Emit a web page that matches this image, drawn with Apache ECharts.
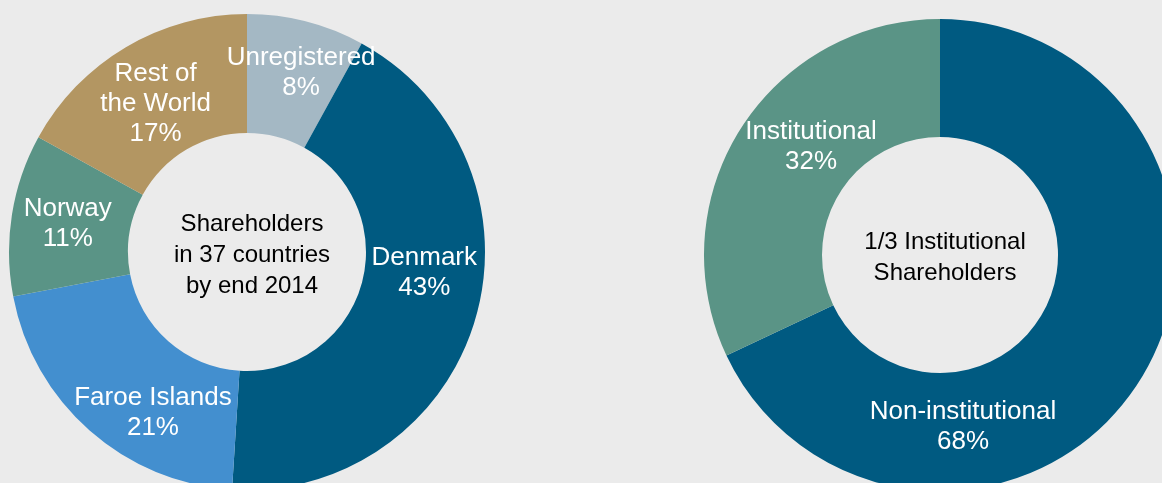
<!DOCTYPE html>
<html lang="en">
<head>
    <meta charset="UTF-8">
    <title>Shareholders</title>
    <script src="https://cdn.jsdelivr.net/npm/echarts@6/dist/echarts.min.js"></script>
    <style>
        html, body{
            margin: 0;
            padding: 0;
            background-color: #ebebeb;
        }
        #chart{
            width: 1162px;
            height: 483px;
        }
    </style>
</head>
<body>
    <div id="chart"></div>
</body>
<script>
    // left donut: shareholders by country
    var countries = ['Unregistered', 'Denmark', 'Faroe Islands', 'Norway', 'Rest of\nthe World'];
    var countryShares = [8, 43, 21, 11, 17];
    var countryColors = ['#a4b8c4', '#005a81', '#438fcf', '#5a9486', '#b39662'];
    var countryOffsets = [[9, -3], [3, -30], [26, 25], [0, 0], [1, 8]];

    // right donut: institutional vs non-institutional
    var holderTypes = ['Non-institutional', 'Institutional'];
    var holderShares = [68, 32];
    var holderColors = ['#005a81', '#5a9486'];
    var holderOffsets = [[-129, 75], [23, -12]];

    var font = 'Arial, "Liberation Sans", sans-serif';

    function buildData(names, values, colors, offsets) {
        var data = [];
        for (var i = 0; i < names.length; i++) {
            data.push({
                name: names[i],
                value: values[i],
                itemStyle: {color: colors[i]},
                label: {offset: offsets[i]}
            });
        }
        return data;
    }

    function donut(center, radius, data) {
        return {
            type: 'pie',
            center: center,
            radius: radius,
            startAngle: 90,
            clockwise: true,
            avoidLabelOverlap: false,
            animation: false,
            silent: true,
            itemStyle: {borderWidth: 0},
            label: {
                show: true,
                position: 'inside',
                formatter: function (p) { return p.name + '\n' + p.value + '%'; },
                color: '#ffffff',
                fontFamily: font,
                fontSize: 26,
                lineHeight: 30,
                align: 'center'
            },
            labelLine: {show: false},
            emphasis: {disabled: true},
            data: data
        };
    }

    var centerText = {fontFamily: font, fontSize: 24, fontWeight: 'normal', color: '#000', lineHeight: 31};

    var chart = echarts.init(document.getElementById('chart'));
    var option = {
        backgroundColor: '#ebebeb',
        title: [{
            text: 'Shareholders\nin 37 countries\nby end 2014',
            left: 247,
            top: 250,
            textAlign: 'center',
            textVerticalAlign: 'middle',
            textStyle: centerText
        }, {
            text: '1/3 Institutional\nShareholders',
            left: 940,
            top: 253,
            textAlign: 'center',
            textVerticalAlign: 'middle',
            textStyle: centerText
        }],
        series: [
            donut([247, 252], [119, 238], buildData(countries, countryShares, countryColors, countryOffsets)),
            donut([940, 255], [118, 236], buildData(holderTypes, holderShares, holderColors, holderOffsets))
        ]
    };
    chart.setOption(option);
</script>
</html>
